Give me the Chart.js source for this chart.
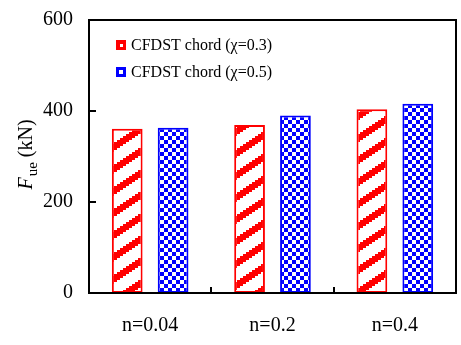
<!DOCTYPE html>
<html>
<head>
<meta charset="utf-8">
<script src="https://cdn.jsdelivr.net/npm/chart.js@4.4.1/dist/chart.umd.min.js"></script>
<style>
  html, body { margin: 0; padding: 0; background: #fff; }
  #wrap { width: 461px; height: 345px; }
</style>
</head>
<body>
<div id="wrap"><canvas id="c" width="461" height="345"></canvas></div>
<script>
// Axial strength of the chord for each axial load ratio n
const categories = ['n=0.04', 'n=0.2', 'n=0.4'];
const seriesNames = ['CFDST chord (\u03c7=0.3)', 'CFDST chord (\u03c7=0.5)'];
const chi03 = [361, 369, 404];
const chi05 = [363, 390, 416];
const yTicks = [0, 200, 400, 600];

const RED = '#ff0000';
const BLUE = '#0000ff';
const SERIF = '"Liberation Serif", "Times New Roman", serif';

// Upward diagonal stripes, stepped like a bitmap hatch
function stripePattern() {
  const W = 33, H = 22, t = 8;
  const c = document.createElement('canvas');
  c.width = W; c.height = H;
  const g = c.getContext('2d');
  g.fillStyle = '#fff';
  g.fillRect(0, 0, W, H);
  g.fillStyle = RED;
  for (let s = 0; s < 11; s++) {
    const x = s * 3;
    const yTop = H - (s + 1) * 2;
    for (let k = 0; k < t; k++) {
      const yy = ((yTop + k) % H + H) % H;
      g.fillRect(x, yy, 3, 1);
    }
  }
  return g.createPattern(c, 'repeat');
}

// Large checkerboard
function checkerPattern() {
  const S = 4;
  const c = document.createElement('canvas');
  c.width = S * 2; c.height = S * 2;
  const g = c.getContext('2d');
  g.fillStyle = '#fff';
  g.fillRect(0, 0, S * 2, S * 2);
  g.fillStyle = BLUE;
  g.fillRect(0, 0, S, S);
  g.fillRect(S, S, S, S);
  return g.createPattern(c, 'repeat');
}

// Axis frame, inward tick marks, legend and y-axis title
const decorations = {
  id: 'decorations',
  afterDatasetsDraw(chart) {
    const { ctx, chartArea: a, scales } = chart;
    const xs = scales.x, ys = scales.y;
    ctx.save();
    ctx.strokeStyle = '#000';
    ctx.lineWidth = 2;
    ctx.strokeRect(a.left, a.top, a.right - a.left, a.bottom - a.top);

    ctx.beginPath();
    yTicks.forEach(v => {
      const y = Math.round(ys.getPixelForValue(v));
      ctx.moveTo(a.left, y);
      ctx.lineTo(a.left + 7, y);
    });
    for (let i = 0; i < categories.length - 1; i++) {
      const x = Math.round((xs.getPixelForValue(i) + xs.getPixelForValue(i + 1)) / 2);
      ctx.moveTo(x, a.bottom);
      ctx.lineTo(x, a.bottom - 6);
    }
    ctx.stroke();

    // legend
    const rows = [
      { name: seriesNames[0], color: RED, hole: [4, 4, 3, 3] },
      { name: seriesNames[1], color: BLUE, hole: [3, 3, 4, 4] }
    ];
    ctx.font = '16px ' + SERIF;
    ctx.textBaseline = 'middle';
    ctx.textAlign = 'left';
    rows.forEach((r, i) => {
      const cy = 45 + i * 27;
      ctx.fillStyle = r.color;
      ctx.fillRect(116, cy - 5, 10, 10);
      ctx.fillStyle = '#fff';
      ctx.fillRect(116 + r.hole[0], cy - 5 + r.hole[1], r.hole[2], r.hole[3]);
      ctx.fillStyle = '#000';
      ctx.fillText(r.name, 131, cy + 1);
    });

    // y-axis title: F_ue (kN)
    ctx.translate(25, 155);
    ctx.rotate(-Math.PI / 2);
    const fMain = '20px ' + SERIF;
    const fItal = 'italic 20px ' + SERIF;
    const fSub = '15px ' + SERIF;
    ctx.font = fItal; const w1 = ctx.measureText('F').width;
    ctx.font = fSub; const w2 = ctx.measureText('ue').width;
    ctx.font = fMain; const w3 = ctx.measureText(' (kN)').width;
    let x = -(w1 + w2 + w3) / 2;
    ctx.fillStyle = '#000';
    ctx.textBaseline = 'alphabetic';
    ctx.font = fItal; ctx.fillText('F', x, 7); x += w1 + 1;
    ctx.font = fSub; ctx.fillText('ue', x, 12); x += w2;
    ctx.font = fMain; ctx.fillText(' (kN)', x, 7);
    ctx.restore();
  }
};

new Chart(document.getElementById('c'), {
  type: 'bar',
  data: {
    labels: categories,
    datasets: [
      {
        label: seriesNames[0],
        data: chi03,
        backgroundColor: stripePattern(),
        borderColor: RED,
        borderWidth: 2,
        borderSkipped: false
      },
      {
        label: seriesNames[1],
        data: chi05,
        backgroundColor: checkerPattern(),
        borderColor: BLUE,
        borderWidth: 2,
        borderSkipped: false
      }
    ]
  },
  options: {
    responsive: false,
    devicePixelRatio: 1,
    animation: false,
    layout: { padding: { top: 20, right: 5, left: 0, bottom: 0 } },
    datasets: { bar: { categoryPercentage: 0.75, barPercentage: 0.67 } },
    plugins: {
      legend: { display: false },
      tooltip: { enabled: false }
    },
    scales: {
      x: {
        grid: { display: false, drawTicks: false },
        border: { display: false },
        ticks: { color: '#000', font: { family: SERIF, size: 20 }, padding: 21 },
        afterFit(s) { s.height = 52; s.paddingLeft = 0; s.paddingRight = 0; }
      },
      y: {
        min: 0,
        max: 600,
        afterBuildTicks(s) { s.ticks = yTicks.map(v => ({ value: v })); },
        grid: { display: false, drawTicks: false },
        border: { display: false },
        ticks: { color: '#000', font: { family: SERIF, size: 20 }, padding: 16 },
        afterFit(s) { s.width = 89; s.paddingTop = 0; s.paddingBottom = 0; }
      }
    }
  },
  plugins: [decorations]
});
</script>
</body>
</html>
